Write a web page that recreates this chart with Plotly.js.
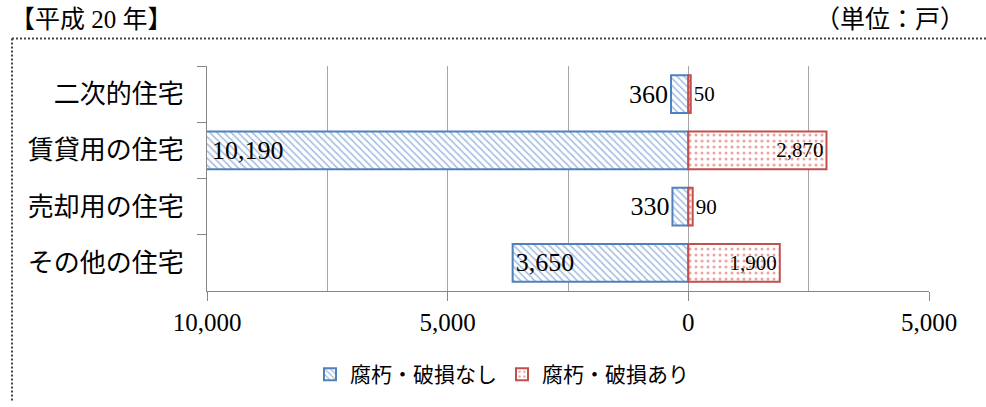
<!DOCTYPE html>
<html>
<head>
<meta charset="utf-8">
<script src="https://cdn.plot.ly/plotly-3.0.1.min.js"></script>
<style>
  html, body { margin: 0; padding: 0; background: #fff; }
  #chart { width: 986px; height: 407px; }
</style>
</head>
<body>
<div id="chart"></div>
<script>
// Housing categories, top to bottom
const categories = ['二次的住宅', '賃貸用の住宅', '売却用の住宅', 'その他の住宅'];
// Households (戸) without / with decay or damage
const noDamage = [360, 10190, 330, 3650];
const damaged = [50, 2870, 90, 1900];
// Axis range and ticks (left side shown as absolute values)
const xRange = [-10000, 5000];
const xTickVals = [-10000, -5000, 0, 5000];
const xTickText = ['10,000', '5,000', '0', '5,000'];
const seriesNames = ['腐朽・破損なし', '腐朽・破損あり'];
const leftTextPos = ['outside', 'inside', 'outside', 'inside'];
const rightTextPos = ['outside', 'inside', 'outside', 'inside'];

const fmt = v => v.toLocaleString('en-US');
const numFont = 'Liberation Serif, Times New Roman, serif';
const jpFont = 'Noto Sans CJK JP, sans-serif';
const leftLabelFont = { family: numFont, size: 26, color: '#000' };

// Bars running past the axis minimum are clipped; their labels sit at the axis edge instead.
const overflow = noDamage.map(v => -v < xRange[0]);
const overflowLabels = [];
noDamage.forEach((v, i) => {
  if (overflow[i]) {
    overflowLabels.push({
      xref: 'x', yref: 'y', x: xRange[0], y: categories[i],
      xanchor: 'left', yanchor: 'middle', xshift: 3,
      text: fmt(v), showarrow: false, font: leftLabelFont
    });
  }
});

const traces = [
  {
    type: 'bar',
    orientation: 'h',
    name: seriesNames[0],
    y: categories,
    x: noDamage.map(v => -v),
    text: noDamage.map((v, i) => overflow[i] ? '' : fmt(v)),
    textposition: leftTextPos,
    insidetextanchor: 'end',
    constraintext: 'none',
    textfont: leftLabelFont,
    hoverinfo: 'skip',
    marker: {
      color: '#ffffff',
      line: { color: '#4F81BD', width: 2 },
      pattern: { shape: '\\', fgcolor: '#A3BCE2', bgcolor: '#ffffff', size: 5, solidity: 0.3 }
    }
  },
  {
    type: 'bar',
    orientation: 'h',
    name: seriesNames[1],
    y: categories,
    x: damaged,
    text: damaged.map(fmt),
    textposition: rightTextPos,
    insidetextanchor: 'end',
    constraintext: 'none',
    textfont: { family: numFont, size: 21, color: '#000' },
    hoverinfo: 'skip',
    marker: {
      color: '#ffffff',
      line: { color: '#C0504D', width: 2 },
      pattern: { shape: '.', fgcolor: '#EBA3A2', bgcolor: '#ffffff', size: 6, solidity: 0.2 }
    }
  }
];

// plot area: x 207..929, y 66..295 (pixels)
const L = 207, R = 929, T = 66, B = 295;
const px = x => (x - L) / (R - L);
const py = y => (B - y) / (B - T);

const layout = {
  width: 986,
  height: 407,
  margin: { l: L, r: 986 - R, t: T, b: 407 - B, pad: 0 },
  paper_bgcolor: '#ffffff',
  plot_bgcolor: '#ffffff',
  barmode: 'relative',
  bargap: 0.33,
  showlegend: true,
  legend: {
    orientation: 'h',
    x: px(502), xanchor: 'center',
    y: py(380), yanchor: 'middle',
    font: { family: jpFont, size: 21, color: '#000' },
    itemwidth: 30,
    traceorder: 'normal'
  },
  xaxis: {
    range: xRange,
    tickmode: 'array',
    tickvals: xTickVals,
    ticktext: xTickText,
    ticks: 'outside',
    ticklen: 9,
    tickcolor: '#868686',
    tickfont: { family: numFont, size: 25, color: '#000' },
    showgrid: true,
    gridcolor: '#A6A6A6',
    gridwidth: 1,
    minor: { tickmode: 'linear', tick0: 0, dtick: 2500, showgrid: true, gridcolor: '#A6A6A6', gridwidth: 1, ticks: '' },
    zeroline: false,
    showline: true,
    linecolor: '#868686',
    linewidth: 1,
    fixedrange: true
  },
  yaxis: {
    autorange: 'reversed',
    type: 'category',
    tickson: 'boundaries',
    ticks: 'outside',
    ticklen: 9,
    tickcolor: '#868686',
    ticklabelstandoff: 17,
    tickfont: { family: jpFont, size: 26, color: '#000' },
    showgrid: false,
    zeroline: false,
    showline: true,
    linecolor: '#868686',
    linewidth: 1,
    fixedrange: true
  },
  annotations: [
    {
      xref: 'paper', yref: 'paper',
      x: px(8), y: py(19), xanchor: 'left', yanchor: 'middle',
      text: '【平成 20 年】', showarrow: false,
      font: { family: 'Liberation Serif, Noto Sans CJK JP, serif', size: 25, color: '#000' }
    },
    {
      xref: 'paper', yref: 'paper',
      x: px(967), y: py(19), xanchor: 'right', yanchor: 'middle',
      text: '（単位：戸）', showarrow: false,
      font: { family: 'Liberation Serif, Noto Sans CJK JP, serif', size: 25, color: '#000' }
    }
  ].concat(overflowLabels),
  shapes: [
    { type: 'line', xref: 'paper', yref: 'paper', x0: px(12), x1: px(986), y0: py(38), y1: py(38),
      line: { color: '#444', width: 2, dash: '2px,2px' } },
    { type: 'line', xref: 'paper', yref: 'paper', x0: px(12), x1: px(12), y0: py(38), y1: py(407),
      line: { color: '#444', width: 2, dash: '2px,2px' } }
  ]
};

Plotly.newPlot('chart', traces, layout, { displayModeBar: false, staticPlot: true });
</script>
</body>
</html>
